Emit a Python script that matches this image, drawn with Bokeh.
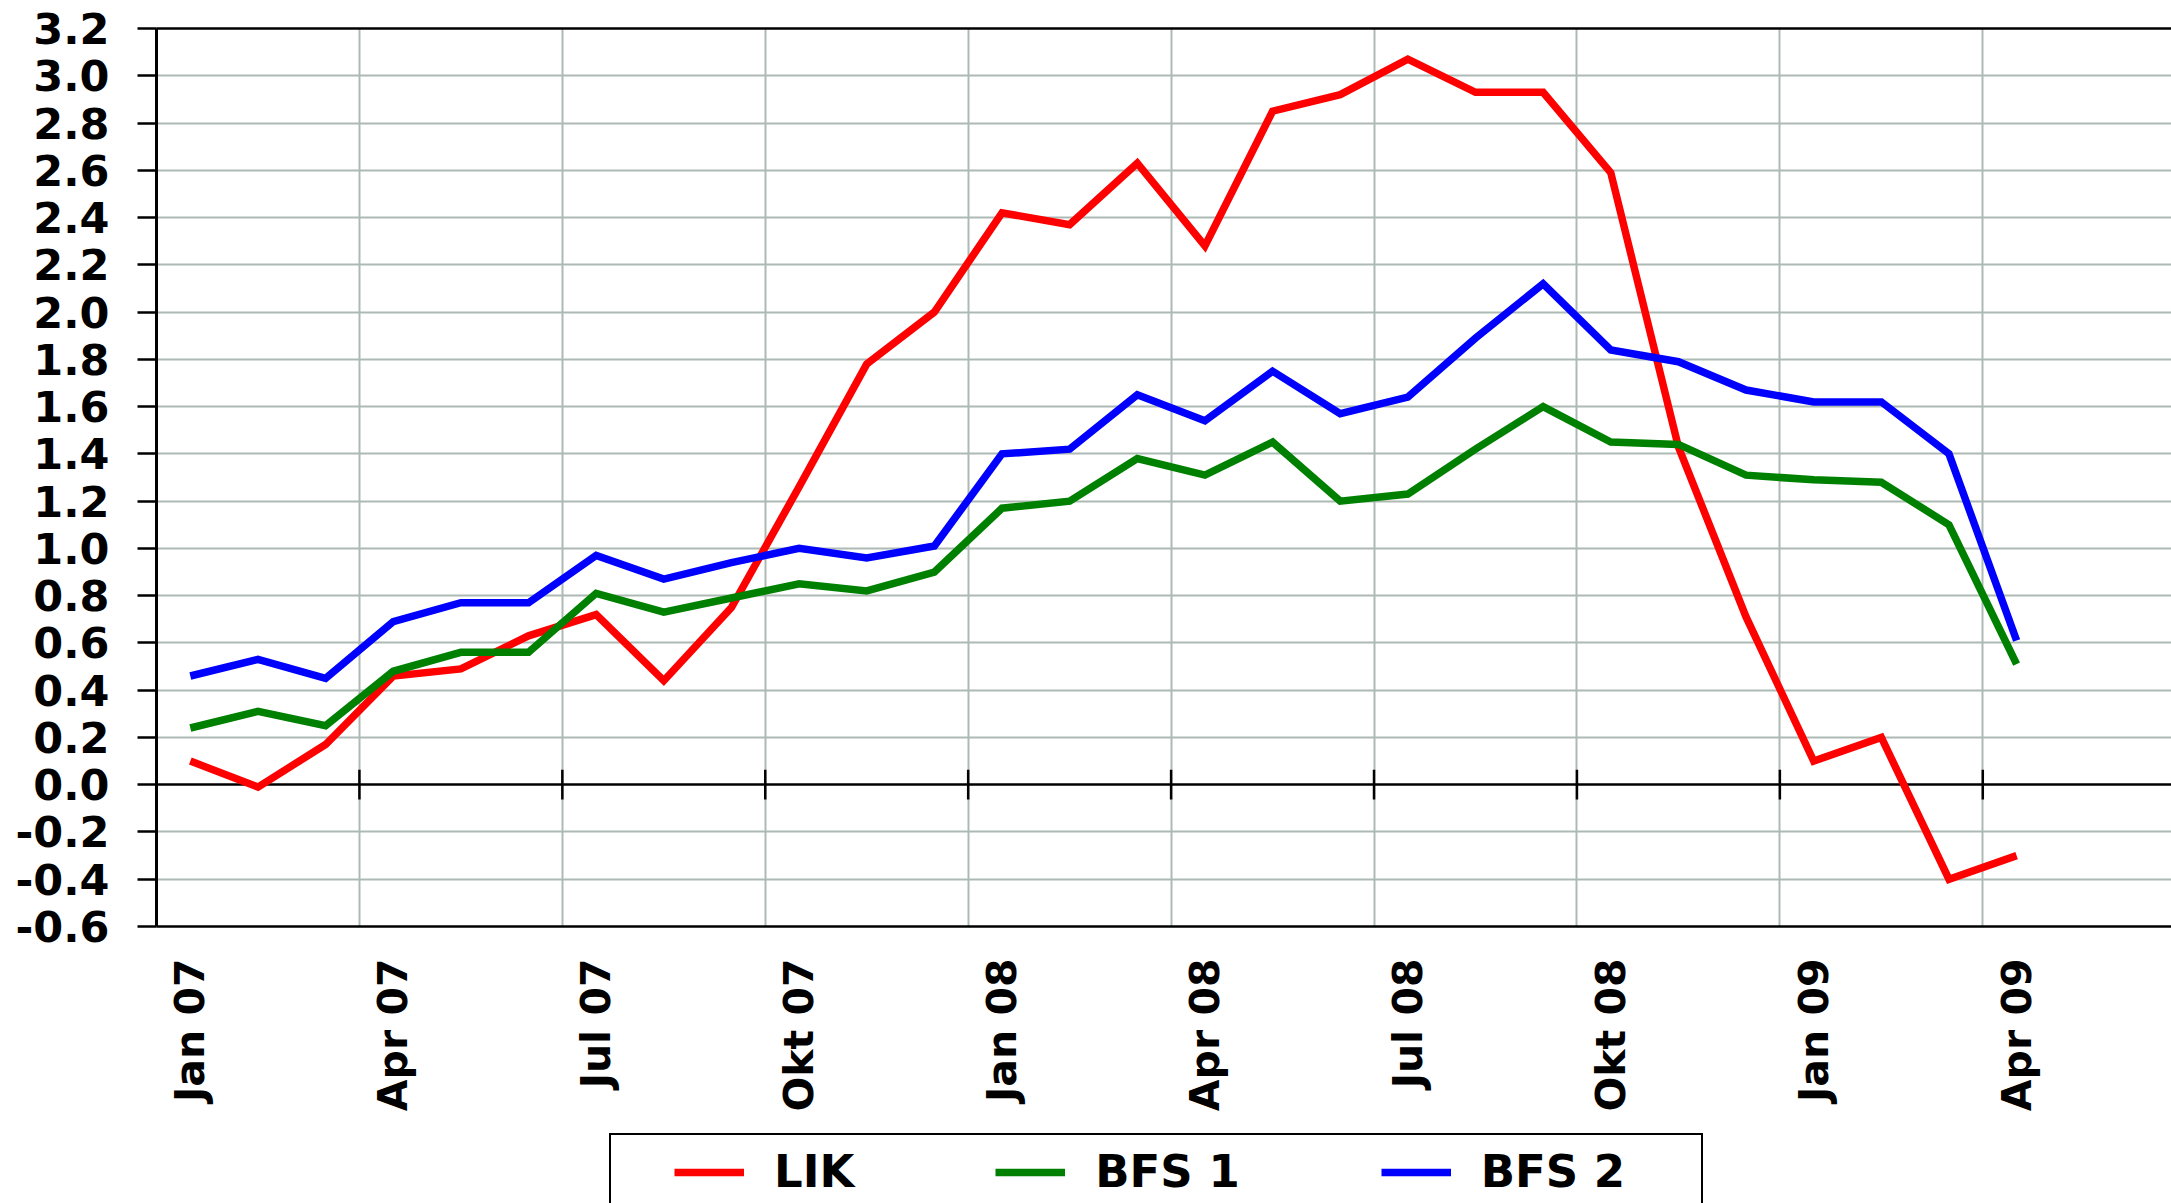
import math
from bokeh.plotting import figure
from bokeh.layouts import column
from bokeh.models import (FixedTicker, LinearAxis, Range1d, Legend, LegendItem,
                          NumeralTickFormatter)
from bokeh.embed import file_html
from bokeh.resources import INLINE

# ---------------- data ----------------
months = ["Jan 07", "Feb 07", "Mrz 07", "Apr 07", "Mai 07", "Jun 07", "Jul 07", "Aug 07",
          "Sep 07", "Okt 07", "Nov 07", "Dez 07",
          "Jan 08", "Feb 08", "Mrz 08", "Apr 08", "Mai 08", "Jun 08", "Jul 08", "Aug 08",
          "Sep 08", "Okt 08", "Nov 08", "Dez 08",
          "Jan 09", "Feb 09", "Mrz 09", "Apr 09"]
lik = [0.10, -0.01, 0.17, 0.46, 0.49, 0.63, 0.72, 0.44, 0.75, 1.26,
       1.78, 2.00, 2.42, 2.37, 2.63, 2.28, 2.85, 2.92, 3.07, 2.93,
       2.93, 2.59, 1.43, 0.71, 0.10, 0.20, -0.40, -0.30]
bfs1 = [0.24, 0.31, 0.25, 0.48, 0.56, 0.56, 0.81, 0.73, 0.79, 0.85,
        0.82, 0.90, 1.17, 1.20, 1.38, 1.31, 1.45, 1.20, 1.23, 1.42,
        1.60, 1.45, 1.44, 1.31, 1.29, 1.28, 1.10, 0.51]
bfs2 = [0.46, 0.53, 0.45, 0.69, 0.77, 0.77, 0.97, 0.87, 0.94, 1.00,
        0.96, 1.01, 1.40, 1.42, 1.65, 1.54, 1.75, 1.57, 1.64, 1.89,
        2.12, 1.84, 1.79, 1.67, 1.62, 1.62, 1.40, 0.61]
series_names = ["LIK", "BFS 1", "BFS 2"]
series_colors = ["#ff0000", "#008000", "#0000ff"]
y_ticks = [-0.6, -0.4, -0.2, 0.0, 0.2, 0.4, 0.6, 0.8, 1.0, 1.2, 1.4, 1.6,
           1.8, 2.0, 2.2, 2.4, 2.6, 2.8, 3.0, 3.2]
label_step = 3

# ---------------- main figure ----------------
n = len(months)
xs = list(range(n))
series = [lik, bfs1, bfs2]
FONT = "DejaVu Sans"
GRID = "#adbab4"
LW = 7.5
W = 2171

p = figure(width=W, height=1130,
           x_range=Range1d(-0.5, n + 1.29), y_range=Range1d(y_ticks[0], y_ticks[-1]),
           output_backend="svg", toolbar_location=None,
           min_border_left=156, min_border_right=0, min_border_top=28, min_border_bottom=204)
p.background_fill_color = "white"
p.border_fill_color = "white"
p.outline_line_color = None

# y axis
p.yaxis.ticker = FixedTicker(ticks=y_ticks)
p.yaxis.formatter = NumeralTickFormatter(format="0.0")
p.yaxis.major_label_text_font = FONT
p.yaxis.major_label_text_font_style = "bold"
p.yaxis.major_label_text_font_size = "43px"
p.yaxis.major_label_text_color = "black"
p.yaxis.major_label_standoff = 28
p.yaxis.major_tick_out = 19
p.yaxis.major_tick_in = 0
p.yaxis.minor_tick_out = 0
p.yaxis.minor_tick_in = 0
p.yaxis.major_tick_line_width = 2.5
p.yaxis.major_tick_line_color = "black"
p.yaxis.axis_line_width = 3
p.yaxis.axis_line_color = "black"

# x axis (labels at bottom, every quarter)
label_idx = list(range(0, n, label_step))
p.xaxis.ticker = FixedTicker(ticks=label_idx)
p.xaxis.major_label_overrides = {i: months[i] for i in label_idx}
p.xaxis.major_label_orientation = math.pi / 2
p.xaxis.major_label_text_font = FONT
p.xaxis.major_label_text_font_style = "bold"
p.xaxis.major_label_text_font_size = "41px"
p.xaxis.major_label_text_color = "black"
p.xaxis.major_label_standoff = 32
p.xaxis.major_tick_out = 0
p.xaxis.major_tick_in = 0
p.xaxis.minor_tick_out = 0
p.xaxis.minor_tick_in = 0
p.xaxis.axis_line_width = 2.5
p.xaxis.axis_line_color = "black"

# top border
top_axis = LinearAxis(ticker=FixedTicker(ticks=[], minor_ticks=[]), major_tick_out=0, major_tick_in=0,
                      minor_tick_out=0, minor_tick_in=0, axis_line_width=2.5, axis_line_color="black",
                      major_label_text_font_size="0px")
p.add_layout(top_axis, "above")

# grids
boundaries = [i - 0.5 for i in range(label_step, n + label_step, label_step)]
p.xgrid.ticker = FixedTicker(ticks=boundaries)
p.xgrid.grid_line_color = GRID
p.xgrid.grid_line_width = 2
p.ygrid.ticker = FixedTicker(ticks=[t for t in y_ticks if abs(t) > 1e-9])
p.ygrid.grid_line_color = GRID
p.ygrid.grid_line_width = 2

# zero line with crossing tick marks
p.hspan(y=[0.0], line_color="black", line_width=2.5)
tick_half = 0.063
p.segment(x0=boundaries, y0=[-tick_half] * len(boundaries), x1=boundaries,
          y1=[tick_half] * len(boundaries), line_color="black", line_width=2.5)

# series
for vals, color in zip(series, series_colors):
    p.line(xs, vals, line_color=color, line_width=LW, line_join="miter")

# ---------------- legend strip ----------------
# same series drawn out of view, only to carry the legend entries
q = figure(width=W, height=73, x_range=Range1d(-0.5, n + 1.29), y_range=Range1d(100, 101),
           x_axis_type=None, y_axis_type=None, output_backend="svg", toolbar_location=None,
           min_border=0)
q.outline_line_color = None
q.background_fill_color = "white"
q.border_fill_color = "white"

dummy = q.line(x=xs, y=lik, line_alpha=0)
box = Legend(items=[LegendItem(label=" ", renderers=[dummy])], location=(453, -14),
             glyph_width=1090, glyph_height=80, label_width=0, label_height=0, label_standoff=0,
             padding=0, margin=0, label_text_font_size="1px",
             border_line_color="black", border_line_width=2, border_line_alpha=1,
             background_fill_color="white", background_fill_alpha=1)
q.add_layout(box)

proxies = [q.line(xs, vals, line_color=c, line_width=LW) for vals, c in zip(series, series_colors)]
legend = Legend(items=[LegendItem(label=nm, renderers=[r]) for nm, r in zip(series_names, proxies)],
                location=(518, 5), orientation="horizontal",
                glyph_width=70, glyph_height=20, label_standoff=30, spacing=141,
                padding=0, margin=0, border_line_alpha=0, background_fill_alpha=0,
                label_text_font=FONT, label_text_font_style="bold", label_text_font_size="45px",
                label_text_color="black")
q.add_layout(legend)

layout = column(p, q, spacing=0)
open("out.html", "w").write(file_html(layout, INLINE))
